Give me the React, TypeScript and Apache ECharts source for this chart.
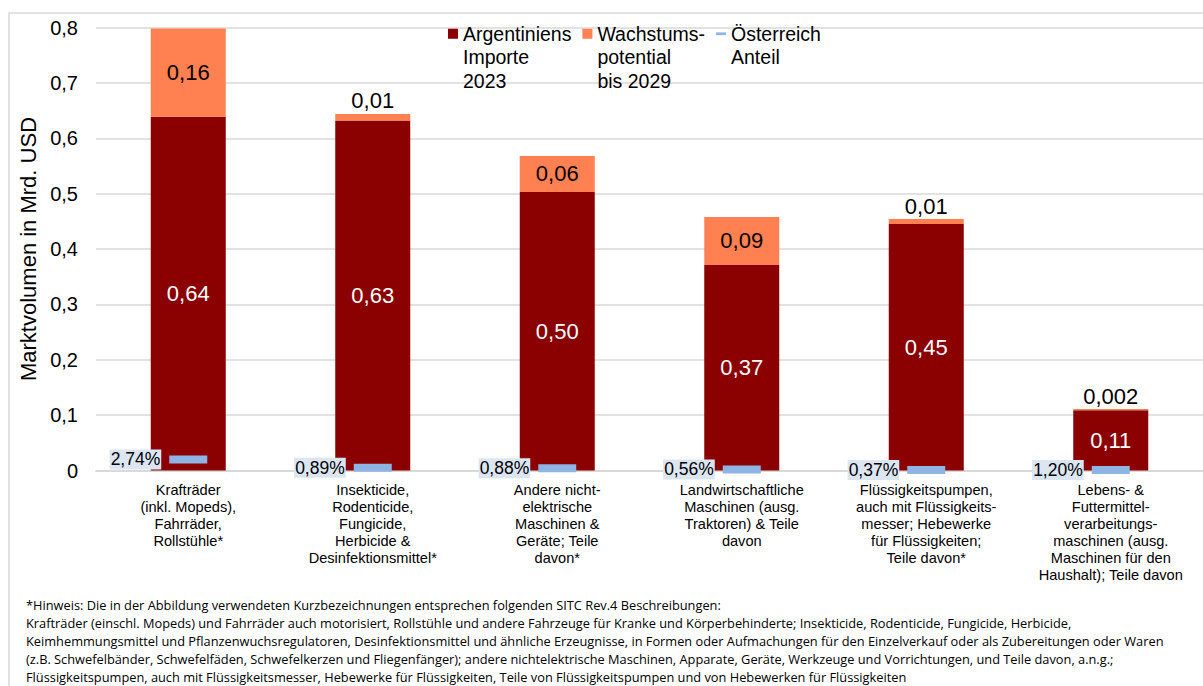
import React, { useEffect, useRef } from "react";
import * as echarts from "echarts";

const categories = [
  "Krafträder\n(inkl. Mopeds),\nFahrräder,\nRollstühle*",
  "Insekticide,\nRodenticide,\nFungicide,\nHerbicide &\nDesinfektionsmittel*",
  "Andere nicht-\nelektrische\nMaschinen &\nGeräte; Teile\ndavon*",
  "Landwirtschaftliche\nMaschinen (ausg.\nTraktoren) & Teile\ndavon",
  "Flüssigkeitspumpen,\nauch mit Flüssigkeits-\nmesser; Hebewerke\nfür Flüssigkeiten;\nTeile davon*",
  "Lebens- &\nFuttermittel-\nverarbeitungs-\nmaschinen (ausg.\nMaschinen für den\nHaushalt); Teile davon",
];
const importValues = [0.639, 0.632, 0.503, 0.371, 0.445, 0.109];
const importLabels = ["0,64", "0,63", "0,50", "0,37", "0,45", "0,11"];
const growthValues = [0.159, 0.012, 0.065, 0.087, 0.009, 0.002];
const growthLabels = ["0,16", "0,01", "0,06", "0,09", "0,01", "0,002"];
const growthLabelInside = [true, false, true, true, false, false];
const austriaMarker = [0.02, 0.005, 0.004, 0.002, 0.001, 0.001];
const austriaShareLabels = ["2,74%", "0,89%", "0,88%", "0,56%", "0,37%", "1,20%"];

const seriesNames = ["Argentiniens\nImporte\n2023", "Wachstums-\npotential\nbis 2029", "Österreich\nAnteil"];

const footnoteLines = [
  "*Hinweis: Die in der Abbildung verwendeten Kurzbezeichnungen entsprechen folgenden SITC Rev.4 Beschreibungen:",
  "Krafträder (einschl. Mopeds) und Fahrräder auch motorisiert, Rollstühle und andere Fahrzeuge für Kranke und Körperbehinderte; Insekticide, Rodenticide, Fungicide, Herbicide,",
  "Keimhemmungsmittel und Pflanzenwuchsregulatoren, Desinfektionsmittel und ähnliche Erzeugnisse, in Formen oder Aufmachungen für den Einzelverkauf oder als Zubereitungen oder Waren",
  "(z.B. Schwefelbänder, Schwefelfäden, Schwefelkerzen und Fliegenfänger); andere nichtelektrische Maschinen, Apparate, Geräte, Werkzeuge und Vorrichtungen, und Teile davon, a.n.g.;",
  "Flüssigkeitspumpen, auch mit Flüssigkeitsmesser, Hebewerke für Flüssigkeiten, Teile von Flüssigkeitspumpen und von Hebewerken für Flüssigkeiten",
];

const FONT = "'Liberation Sans', Arial, sans-serif";
const NOTE_FONT = "'Liberation Sans Narrow', 'Open Sans', sans-serif";

export default function App() {
  const ref = useRef<HTMLDivElement>(null);
  useEffect(() => {
    if (!ref.current) return;
    const chart = echarts.init(ref.current, null, { renderer: "svg" });
    const LH = 23.5;
    chart.setOption({
      animation: false,
      backgroundColor: "#fff",
      textStyle: { fontFamily: FONT },
      legend: {
        left: 443,
        top: -30,
        itemWidth: 10,
        itemHeight: 10,
        itemGap: 11,
        formatter: (name: string) => (name === seriesNames[2] ? "\n" : "\n\n") + name,
        textStyle: { fontSize: 19.5, lineHeight: LH, color: "#000", fontFamily: FONT },
        data: [
          { name: seriesNames[0], icon: "rect" },
          { name: seriesNames[1], icon: "rect" },
          { name: seriesNames[2], icon: "path://M0,0h11v3h-11z" },
        ],
      },
      grid: { left: 96, right: -11, top: 27.5, bottom: 215.5, containLabel: false },
      xAxis: {
        type: "category",
        data: categories,
        axisLine: { lineStyle: { color: "#D9D9D9", width: 2 } },
        axisTick: { show: false },
        axisLabel: {
          interval: 0,
          fontSize: 14.6,
          lineHeight: 17,
          color: "#000",
          margin: 11,
          fontFamily: FONT,
        },
      },
      yAxis: {
        type: "value",
        min: 0,
        max: 0.8,
        interval: 0.1,
        name: "Marktvolumen in Mrd. USD",
        nameLocation: "middle",
        nameGap: 54,
        nameTextStyle: { fontSize: 22, color: "#000", fontFamily: FONT },
        axisLine: { show: false },
        axisTick: { show: false },
        splitLine: { lineStyle: { color: "#D9D9D9", width: 1.5 } },
        axisLabel: {
          fontSize: 20,
          color: "#000",
          margin: 18,
          fontFamily: FONT,
          formatter: (v: number) => (v === 0 ? "0" : v.toFixed(1).replace(".", ",")),
        },
      },
      series: [
        {
          name: seriesNames[0],
          type: "bar",
          stack: "total",
          barWidth: 75,
          itemStyle: { color: "#8B0000" },
          label: {
            show: true,
            position: "inside",
            color: "#fff",
            fontSize: 22,
            fontFamily: FONT,
            formatter: (p: any) => importLabels[p.dataIndex],
          },
          data: importValues,
        },
        {
          name: seriesNames[1],
          type: "bar",
          stack: "total",
          barWidth: 75,
          itemStyle: { color: "#FF8050" },
          label: {
            show: true,
            color: "#000",
            fontSize: 22,
            fontFamily: FONT,
            formatter: (p: any) => growthLabels[p.dataIndex],
          },
          data: growthValues.map((v, i) => ({
            value: v,
            label: { position: growthLabelInside[i] ? "inside" : "top", distance: 2 },
          })),
        },
        {
          name: seriesNames[2],
          type: "scatter",
          symbol: "rect",
          symbolSize: [38, 8],
          z: 5,
          itemStyle: { color: "#8EB4E3", opacity: 1 },
          label: {
            show: true,
            position: "left",
            distance: 8,
            color: "#000",
            fontSize: 17.5,
            fontFamily: FONT,
            backgroundColor: "#DCE6F2",
            padding: [2, 1, 0, 1],
            formatter: (p: any) => austriaShareLabels[p.dataIndex],
          },
          data: austriaMarker,
        },
      ],
      graphic: [
        {
          type: "rect",
          silent: true,
          shape: { x: 9, y: 13, width: 1300, height: 900 },
          style: { fill: "none", stroke: "#D9D9D9", lineWidth: 1.5 },
          z: -10,
        },
        ...footnoteLines.map((t, i) => ({
          type: "text",
          left: 26,
          top: 598 + i * 18.2,
          style: { text: t, fontSize: 12.8, fontFamily: NOTE_FONT, fill: "#000" },
        })),
      ],
    });
    return () => chart.dispose();
  }, []);
  return <div ref={ref} style={{ position: "fixed", left: 0, top: 0, width: 1203, height: 686 }} />;
}
